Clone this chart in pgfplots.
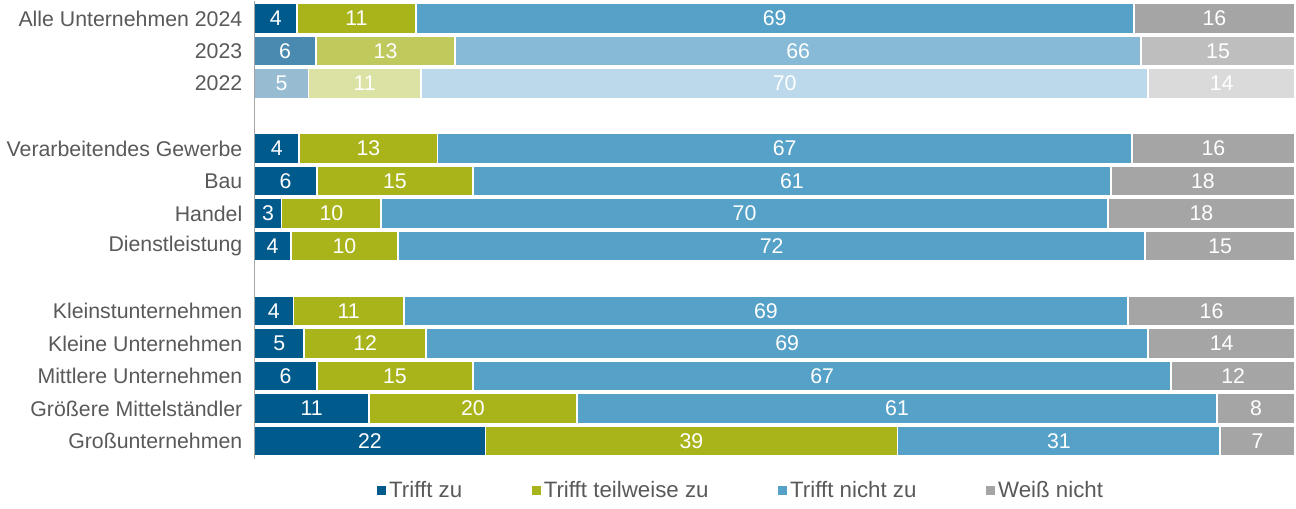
\documentclass[border=0pt]{standalone}
\usepackage{pgfplots}
\pgfplotsset{compat=1.18}
\usepackage{pgfplotstable}
\usepackage{fontspec}
\setmainfont{Liberation Sans}
\definecolor{cA}{HTML}{005A8C}
\definecolor{cB}{HTML}{A8B41A}
\definecolor{cC}{HTML}{55A1C8}
\definecolor{cD}{HTML}{A5A5A5}
\definecolor{cA3}{HTML}{4A89B0}
\definecolor{cB3}{HTML}{C0C95C}
\definecolor{cC3}{HTML}{86BAD7}
\definecolor{cD3}{HTML}{BEBEBE}
\definecolor{cA2}{HTML}{97BCD2}
\definecolor{cB2}{HTML}{DCE2A4}
\definecolor{cC2}{HTML}{BBD9EA}
\definecolor{cD2}{HTML}{DADADA}
\definecolor{labelgray}{HTML}{595959}
\definecolor{axisgray}{HTML}{A6A6A6}

\pgfplotstableread{
y a b c d la lb lc ld
0 4.1 11.4 69.0 15.5 4 11 69 16
4 4.3 13.3 66.7 15.7 4 13 67 16
5 6.0 15.0 61.3 17.7 6 15 61 18
6 2.6 9.6 69.8 18.0 3 10 70 18
7 3.5 10.3 71.8 14.4 4 10 72 15
9 3.75 10.6 69.6 16.05 4 11 69 16
10 4.8 11.7 69.4 14.1 5 12 69 14
11 6.0 15.0 67.1 11.9 6 15 67 12
12 11.0 20.0 61.5 7.5 11 20 61 8
13 22.2 39.6 31.0 7.2 22 39 31 7
}\tmain
\pgfplotstableread{
y a b c d la lb lc ld
1 5.9 13.4 65.9 14.8 6 13 66 15
}\tyear
\pgfplotstableread{
y a b c d la lb lc ld
2 5.2 10.8 69.9 14.1 5 11 70 14
}\tyearb

\newcommand{\fsz}{\fontsize{10.6}{12.5}\selectfont}
\newcommand{\lsz}{\fontsize{11.1}{13}\selectfont}

\newcommand{\barset}[5]{%
 \addplot[mybar, fill=#5, forget plot] table[y=y, x expr=\thisrow{a}+\thisrow{b}+\thisrow{c}+\thisrow{d}] {#1};
 \addplot[mybar, fill=#4, forget plot] table[y=y, x expr=\thisrow{a}+\thisrow{b}+\thisrow{c}] {#1};
 \addplot[mybar, fill=#3, forget plot] table[y=y, x expr=\thisrow{a}+\thisrow{b}] {#1};
 \addplot[mybar, fill=#2, forget plot] table[y=y, x expr=\thisrow{a}] {#1};
}
\newcommand{\labelset}[1]{%
 \addplot[lbl] table[y=y, x expr=\thisrow{a}/2, meta=la] {#1};
 \addplot[lbl] table[y=y, x expr=\thisrow{a}+\thisrow{b}/2, meta=lb] {#1};
 \addplot[lbl] table[y=y, x expr=\thisrow{a}+\thisrow{b}+\thisrow{c}/2, meta=lc] {#1};
 \addplot[lbl] table[y=y, x expr=\thisrow{a}+\thisrow{b}+\thisrow{c}+\thisrow{d}/2, meta=ld] {#1};
}

\begin{document}
\begin{tikzpicture}
\begin{axis}[
  scale only axis, width=518pt, height=228pt,
  xmin=0, xmax=100, ymin=-0.55, ymax=13.55, y dir=reverse,
  axis x line=none, axis y line*=left,
  y axis line style={draw=axisgray, line width=0.7pt, -},
  ytick={0,1,2,4,5,6,7,9,10,11,12,13},
  yticklabels={Alle Unternehmen 2024,2023,2022,Verarbeitendes Gewerbe,Bau,Handel,Dienstleistung,Kleinstunternehmen,Kleine Unternehmen,Mittlere Unternehmen,Größere Mittelständler,Großunternehmen},
  major tick length=0pt,
  yticklabel style={text=labelgray, font=\fsz, xshift=-2.5pt},
  axis on top,
  clip=false,
  mybar/.style={xbar, bar width=15.2pt, bar shift=0pt, draw=white, line width=0.9pt},
  lbl/.style={draw=none, mark=none, forget plot, nodes near coords, point meta=explicit symbolic,
    every node near coord/.style={anchor=center, text=white, font=\fsz, inner sep=0pt}},
  legend columns=4, reverse legend,
  legend style={at={(0.468,-0.07)}, anchor=center, draw=none, fill=none, font=\lsz, text=labelgray,
    nodes={inner xsep=1.5pt},
    /tikz/every even column/.append style={column sep=33pt}},
  legend image code/.code={\path[#1,draw=none] (0pt,-2.3pt) rectangle (4.6pt,2.3pt);},
]
\addplot[mybar, fill=cD] table[y=y, x expr=\thisrow{a}+\thisrow{b}+\thisrow{c}+\thisrow{d}] {\tmain};
\addlegendentry{Weiß nicht}
\addplot[mybar, fill=cC] table[y=y, x expr=\thisrow{a}+\thisrow{b}+\thisrow{c}] {\tmain};
\addlegendentry{Trifft nicht zu}
\addplot[mybar, fill=cB] table[y=y, x expr=\thisrow{a}+\thisrow{b}] {\tmain};
\addlegendentry{Trifft teilweise zu}
\addplot[mybar, fill=cA] table[y=y, x expr=\thisrow{a}] {\tmain};
\addlegendentry{Trifft zu}
\barset{\tyear}{cA3}{cB3}{cC3}{cD3}
\barset{\tyearb}{cA2}{cB2}{cC2}{cD2}
\labelset{\tmain}
\labelset{\tyear}
\labelset{\tyearb}
\end{axis}
\end{tikzpicture}
\end{document}
